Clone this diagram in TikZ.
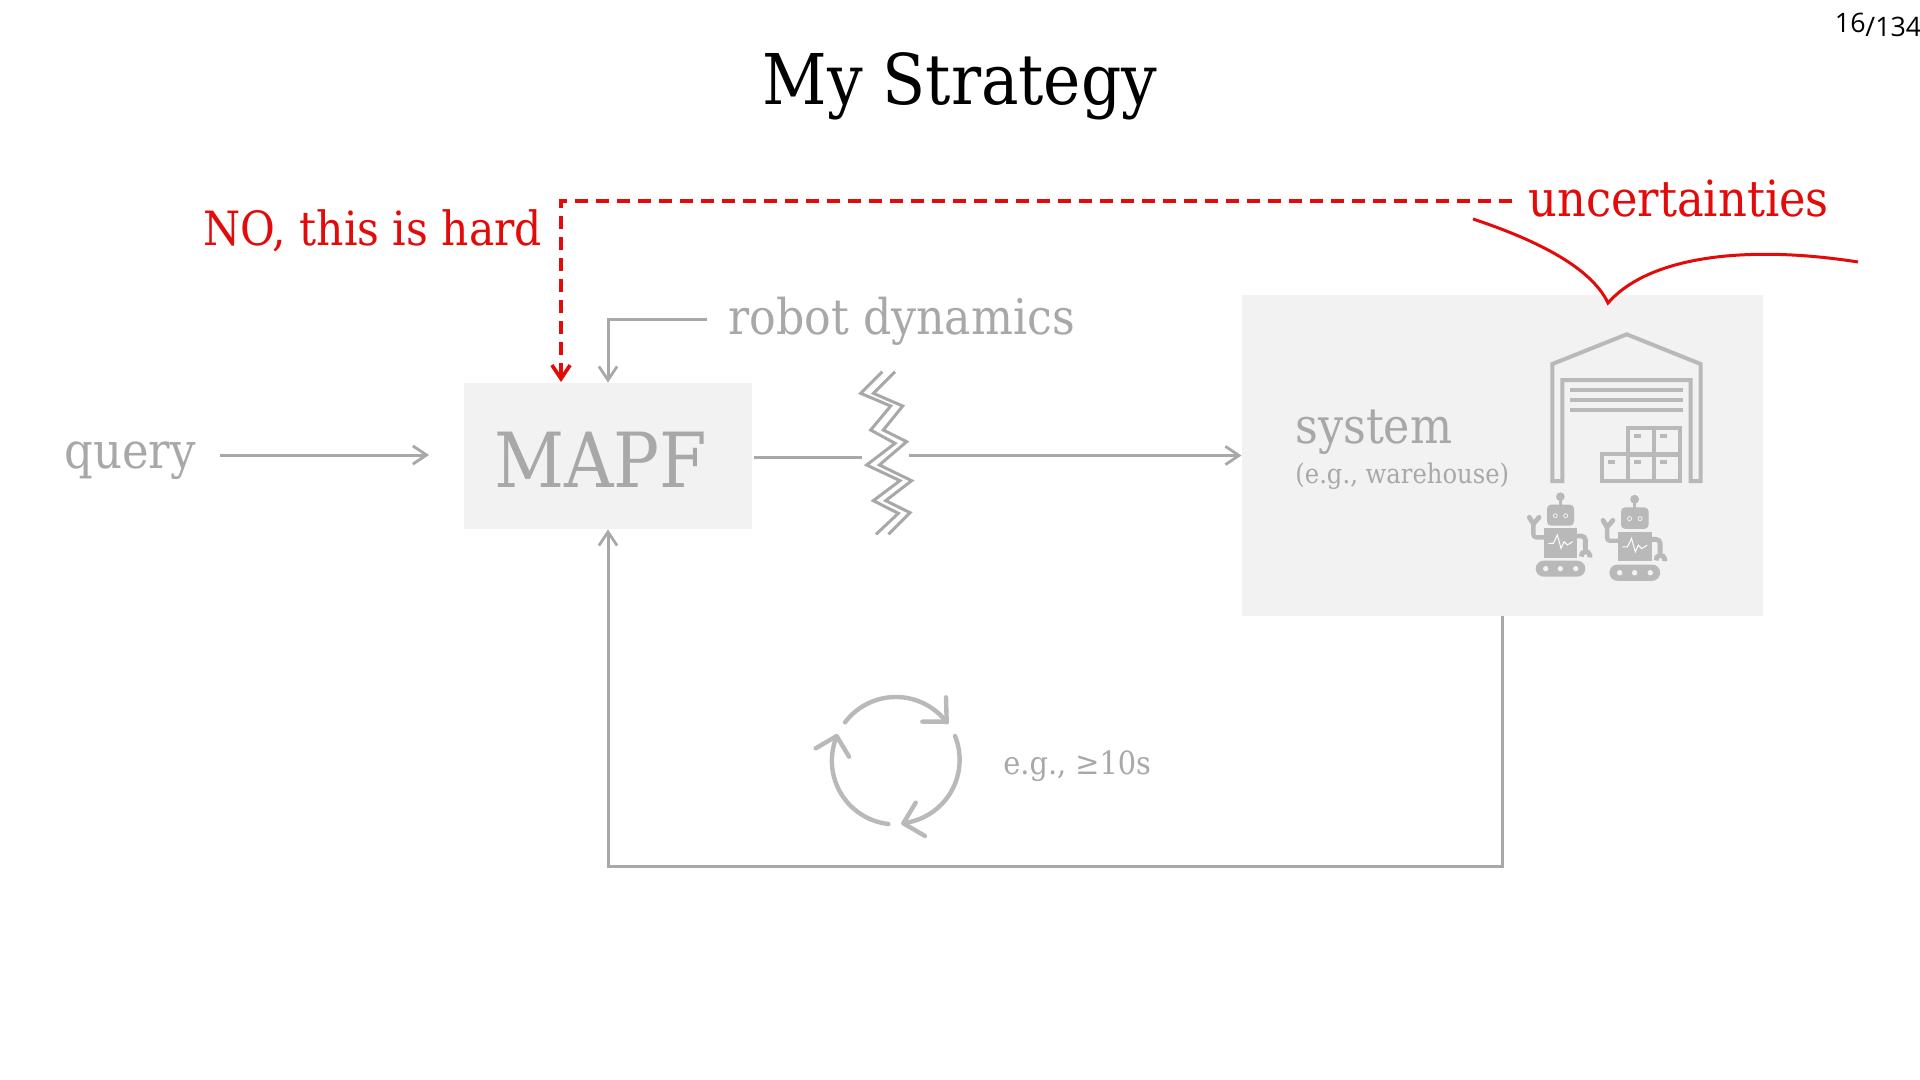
\documentclass[tikz,border=0pt]{standalone}
\usepackage{fontspec}
\setmainfont{DejaVu Serif Condensed}
\newfontfamily\pagefont{Open Sans}
\usetikzlibrary{arrows.meta,positioning,calc}
\definecolor{msRed}{HTML}{E30A0A}
\definecolor{msGrey}{HTML}{A8A8A8}
\definecolor{msIcon}{HTML}{B9B9B9}
\definecolor{msFill}{HTML}{F2F2F2}
\tikzset{
  panel/.style    ={fill=msFill,inner sep=0pt},
  lbl/.style      ={text=msGrey,inner sep=0pt,anchor=base west},
  rlbl/.style     ={text=msRed,inner sep=0pt,anchor=base west},
  flow/.style     ={-{Straight Barb[length=2.4mm,width=3.2mm,line width=1.4pt]},msGrey,line width=1.5pt},
  redflow/.style  ={-{Straight Barb[length=2.4mm,width=3.2mm,line width=1.8pt]},msRed,line width=2pt,dash pattern=on 6.5pt off 4pt},
  curl/.style     ={msRed,line width=1.5pt},
  bolt/.style     ={msGrey,line width=1.5pt,line join=miter},
  %% icons are traced on a 3x grid
  traced/.style   ={shift={(1480,300)},x=0.16667pt,y=-0.16667pt},
  tracedb/.style  ={shift={(780,660)},x=0.16667pt,y=-0.16667pt},
  tracedc/.style  ={shift={(820,350)},x=0.16667pt,y=-0.16667pt},
  iconline/.style ={draw=msIcon,line width=2pt},
  iconfill/.style ={fill=msIcon},
  spin/.style     ={msIcon,line width=2.2pt,line cap=round,line join=round},
}
\newcommand{\msrobot}[3]{%
  \begin{scope}[traced,shift={(#1,#2)},scale=#3]
    \fill[iconfill] (241,590) circle (13);
    \draw[iconline,line width=1.5pt] (241,590) -- (241,620);
    \fill[iconfill,rounded corners=2pt] (201,614) rectangle (282,677);
    \foreach \ex in {226,257}
      \draw[draw=msFill,line width=0.4pt] (\ex,647) circle (6);
    \fill[iconfill] (192,685) rectangle (291,773);
    \draw[white,line width=0.5pt] (205,730) -- (220,730) -- (232,705) -- (243,745) -- (252,725) -- (262,735) -- (278,725);
    \fill[iconfill,rounded corners=4pt] (167,782) rectangle (316,830);
    \foreach \ex in {197,241,287}
      \fill[msFill] (\ex,806) circle (8);
    \draw[iconline,line width=2.2pt,rounded corners=1.5pt] (192,712) -- (160,712) -- (160,672);
    \draw[iconline,line width=2.4pt,line cap=round] (148,652) -- (160,672) -- (177,652);
    \draw[iconline,line width=2.4pt,rounded corners=2pt] (291,708) -- (316,708) -- (316,750);
    \draw[iconline,line width=2.4pt] (304,770) arc[start angle=170,end angle=380,radius=13];
  \end{scope}}
\begin{document}
\begin{tikzpicture}[x=0.5pt,y=-0.5pt]
\useasboundingbox (0,0) rectangle (1920,1080);
\fill[white] (0,0) rectangle (1920,1080);

\node[inner sep=0pt,anchor=base,font=\fontsize{35}{38}\selectfont] (title) at (960,105) {My Strategy};
\node[inner sep=0pt,anchor=base east,font=\pagefont\fontsize{13.4}{16}\selectfont] (page) at (1866,33) {16};
\node[inner sep=0pt,anchor=base west,font=\pagefont\fontsize{13.4}{16}\selectfont] (pagetotal) at (1865,37) {/134};

\node[panel,minimum width=144pt,minimum height=73pt] (mapf) at (608,456) {};
\node[panel,minimum width=260.5pt,minimum height=160.5pt] (sys) at (1502.5,455.5) {};

\node[lbl,font=\fontsize{25}{28}\selectfont] (query) at (64,468) {query};
\node[lbl,font=\fontsize{38}{41}\selectfont] (mapflbl) at (494,487) {MAPF};
\node[lbl,font=\fontsize{24.6}{28}\selectfont] (dyn) at (728,335) {robot dynamics};
\node[lbl,font=\fontsize{24.7}{28}\selectfont] (syslbl) at (1295,443) {system};
\node[lbl,font=\fontsize{13.5}{16}\selectfont] (syssub) at (1295,483) {(e.g., warehouse)};
\node[lbl,font=\fontsize{16}{18}\selectfont] (every) at (1003,774) {e.g., ≥10s};
\node[rlbl,font=\fontsize{23.6}{26}\selectfont] (hard) at (203,246) {NO, this is hard};
\node[rlbl,font=\fontsize{24.9}{27}\selectfont] (unc) at (1528,217) {uncertainties};

\coordinate (qstart) at (220,455);
\coordinate (qend) at (429,455);
\coordinate (boltin) at (862,457);
\coordinate (boltout) at (909,455.5);
\coordinate (dynstart) at (707,320);
\coordinate (redstart) at (1512,201);
\coordinate (mapfred) at (561,382);
\coordinate (fbturn) at (1502.5,866);

\draw[flow] (qstart) -- (qend);
\draw[msGrey,line width=1.5pt] (mapf.east) ++(2,1) -- (boltin);
\draw[flow] (boltout) -- (sys.west);
\draw[flow] (dynstart) -| (mapf.north);
\draw[flow] (sys.south) -- (fbturn) -| (mapf.south);
\draw[redflow] (redstart) -| (mapfred);

\draw[curl] (1473,219) .. controls (1530,238) and (1590,265) .. (1608,303)
  .. controls (1650,255) and (1750,245) .. (1858,262);

%% lightning bolt
\begin{scope}[tracedc]
  \draw[bolt] (187,65) -- (122,130) -- (212,168) -- (152,240) -- (225,280) -- (140,345) -- (240,392) -- (160,452) -- (235,490) -- (168,553);
  \draw[bolt] (225,65) -- (160,130) -- (248,168) -- (190,240) -- (260,275) -- (178,345) -- (275,392) -- (197,452) -- (270,488) -- (205,553);
\end{scope}

%% warehouse
\begin{scope}[traced]
  \draw[iconline,miter limit=10] (217,543) -- (217,192) -- (440,103) -- (662,192) -- (662,543) -- (632,543) -- (632,240) -- (247,240) -- (247,543) -- cycle;
  \foreach \ly in {269,299,329}
    \draw[iconline] (270,\ly) -- (608,\ly);
  \foreach \bx/\by in {445/384,523/384,366/462,445/462,523/462}
    { \draw[iconline] (\bx,\by) rectangle ++(78,80);
      \fill[iconfill] (\bx+18,\by+19) rectangle ++(20,10); }
\end{scope}

\msrobot{0}{0}{1}
\msrobot{218}{-4}{1.02}

%% cycle icon
\begin{scope}[tracedb]
  \draw[spin] (195,187) arc[start angle=217,end angle=323,radius=191];
  \draw[spin] (498,112) -- (500,185) -- (427,185);
  \draw[spin] (525,228) arc[start angle=-22,end angle=83,radius=191];
  \draw[spin] (407,428) -- (370,490) -- (435,528);
  \draw[spin] (325,492) arc[start angle=96.5,end angle=202,radius=191];
  \draw[spin] (107,265) -- (170,228) -- (207,290);
\end{scope}
\end{tikzpicture}
\end{document}
